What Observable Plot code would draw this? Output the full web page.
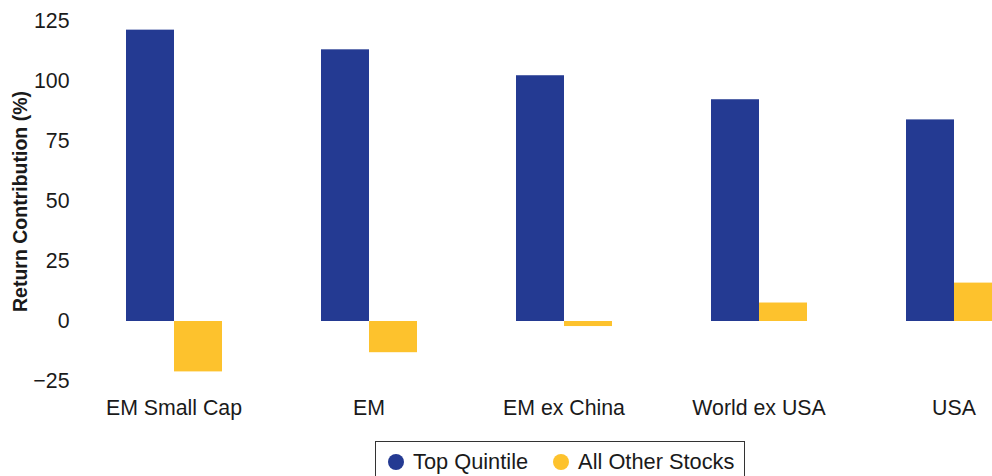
<!DOCTYPE html>
<html>
<head>
<meta charset="utf-8">
<script src="https://cdn.jsdelivr.net/npm/d3@7"></script>
<script src="https://cdn.jsdelivr.net/npm/@observablehq/plot@0.6"></script>
<style>
  html, body { margin: 0; padding: 0; background: #fff; }
  #chart { width: 992px; }
  #chart svg { overflow: hidden; display: block; }
  #chart svg [aria-label="y-axis label"] text { font-weight: bold; font-size: 19.5px; }
  .legend { margin-left: 375px; margin-top: 11px; width: 370px; height: 42px;
    border: 1px solid #333; box-sizing: border-box; display: flex; align-items: center;
    font-family: "Liberation Sans", Arial, sans-serif; font-size: 21.8px; color: #1a1a1a; }
  .legend .item { display: flex; align-items: center; }
  .legend .dot { width: 16px; height: 16px; border-radius: 50%; display: inline-block; }
</style>
</head>
<body>
<div id="chart"></div>
<script>
const categories = ["EM Small Cap", "EM", "EM ex China", "World ex USA", "USA"];
const series = ["Top Quintile", "All Other Stocks"];
const topQuintile = [121.4, 113.2, 102.4, 92.4, 84.0];
const allOtherStocks = [-21.0, -13.0, -2.1, 7.7, 16.0];
const yTicks = [-25, 0, 25, 50, 75, 100, 125];
const colors = ["#243a92", "#fdc22d"];

const data = categories.flatMap((c, i) => [
  {category: c, series: series[0], value: topQuintile[i]},
  {category: c, series: series[1], value: allOtherStocks[i]}
]);

const chart = Plot.plot({
  width: 992,
  height: 430,
  marginLeft: 90,
  marginRight: 0,
  marginTop: 21,
  marginBottom: 49,
  style: {fontFamily: "'Liberation Sans', Arial, sans-serif", fontSize: "21.3px", color: "#1a1a1a", background: "#fff"},
  fx: {domain: categories, range: [75.5, 1050.5], padding: 0, paddingInner: 0, paddingOuter: 0},
  x: {domain: series, paddingInner: 0, paddingOuter: 0.99, axis: null},
  y: {domain: [-25, 125]},
  color: {domain: series, range: colors},
  marks: [
    Plot.barY(data, {fx: "category", x: "series", y: "value", fill: "series", inset: 0}),
    Plot.axisFx({anchor: "bottom", tickSize: 0, tickPadding: 18, label: null}),
    Plot.axisY(yTicks, {tickSize: 0, tickPadding: 7, label: "Return Contribution (%)", labelArrow: "none", labelAnchor: "center", labelOffset: 63, tickFormat: d => d < 0 ? "\u2212" + Math.abs(d) : String(d)})
  ]
});
document.getElementById("chart").appendChild(chart);

const legend = document.createElement("div");
legend.className = "legend";
legend.innerHTML = series.map((s, i) =>
  `<span class="item" style="margin-left:${i === 0 ? 12 : 25}px"><span class="dot" style="background:${colors[i]}"></span><span style="margin-left:9px">${s}</span></span>`
).join("");
document.getElementById("chart").appendChild(legend);
</script>
</body>
</html>
